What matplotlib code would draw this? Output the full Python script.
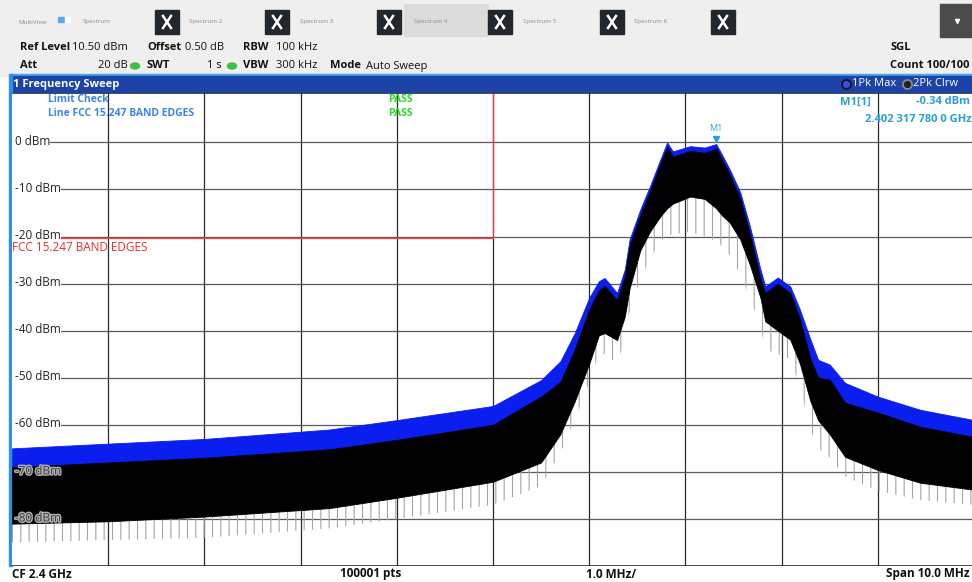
import matplotlib
matplotlib.use("Agg")
import matplotlib.pyplot as plt
from matplotlib.patches import Rectangle, Ellipse
import matplotlib.patheffects as pe

plt.rcParams['font.family'] = ['Open Sans', 'DejaVu Sans']
plt.rcParams['hatch.linewidth'] = 0.8

# trace envelopes, frequency in MHz
freq_mhz = [2395.0, 2396.0, 2397.0, 2398.3, 2399.0, 2400.0, 2400.5, 2400.7, 2400.85,
            2401.0, 2401.1, 2401.16, 2401.29, 2401.37, 2401.42, 2401.53, 2401.63,
            2401.74, 2401.81, 2401.87, 2402.05, 2402.2, 2402.32, 2402.38, 2402.46,
            2402.57, 2402.67, 2402.78, 2402.83, 2402.96, 2403.09, 2403.19, 2403.3,
            2403.38, 2403.5, 2403.66, 2404.0, 2404.44, 2405.0]
maxhold_top = [-65, -64, -63, -61, -59, -56, -50.5, -46.5, -40.5,
               -33, -29.5, -28.8, -32, -27, -20.6, -14.3, -9.4,
               -3.6, 0, -1.9, -0.8, -1.1, -0.34, -2.6, -5.7,
               -10.6, -17.8, -27, -30.6, -28.7, -30.6, -35.5, -41.9,
               -46.2, -47.2, -51.1, -54, -56.8, -59]
clrw_top = [-69, -68, -67, -65.2, -63.2, -60, -54, -50.9, -44,
            -35.5, -31.5, -30.5, -33.5, -28.5, -22, -15.5, -10.5,
            -4.5, -1, -3, -1.8, -2.2, -1.3, -3.6, -6.8,
            -12, -19.5, -29, -32, -30, -32, -37.5, -46,
            -50, -50.4, -55.3, -57.4, -60.4, -62.6]
clrw_bottom = [-81, -80.5, -79.5, -77.7, -75.5, -72.1, -68, -62, -55,
               -47, -41, -40.5, -42, -37, -31, -23, -19,
               -15.7, -14, -13, -11.5, -12, -14, -15.5, -17,
               -20.6, -26, -33, -38, -40, -41.9, -47, -55,
               -59, -62, -66.8, -69.6, -72.3, -73.8]
clrw_spikes = [-85, -84.5, -84, -82, -80, -77, -73, -66, -59,
               -51, -45, -45, -47, -42, -36, -29, -25,
               -21, -20, -19.5, -19, -20, -21, -22, -24,
               -28, -33, -39, -44, -45, -46, -52, -61,
               -65, -67, -71, -74, -76, -77]

ref_level = 10.5
cf_mhz = 2400.0
span_mhz = 10.0
limit_level = -20.34
marker_f = 2402.3177800
marker_lvl = -0.34
grid_levels = [0, -10, -20, -30, -40, -50, -60, -70, -80]

W, H = 972, 582
fig = plt.figure(figsize=(W / 100, H / 100), dpi=100)

# background / chrome in pixel coordinates
bg = fig.add_axes([0, 0, 1, 1], zorder=0)
bg.set_xlim(0, W)
bg.set_ylim(H, 0)
bg.axis('off')
bg.add_patch(Rectangle((0, 0), W, 76, color='#efefef'))
bg.add_patch(Rectangle((0, 566), W, 16, color='#ffffff'))
bg.add_patch(Rectangle((404, 4), 84, 32, color='#dcdcdc'))
for bx in [155, 265, 377, 488, 600, 711]:
    bg.add_patch(Rectangle((bx, 10), 24, 24, color='#22262d'))
    bg.plot([bx + 8, bx + 16], [16, 28], color='white', lw=1.8)
    bg.plot([bx + 8, bx + 16], [28, 16], color='white', lw=1.8)
bg.add_patch(Rectangle((58, 17), 6, 5, color='#5aa8ee'))
bg.add_patch(Rectangle((65, 17), 5, 5, color='#ffffff'))
bg.add_patch(Rectangle((940, 4), 32, 33, color='#4b4b4b'))
bg.plot([957], [21], marker='v', ms=3, color='white')
tabs = [(18, 'MultiView'), (83, 'Spectrum'), (189, 'Spectrum 2'), (300, 'Spectrum 3'),
        (414, 'Spectrum 4'), (523, 'Spectrum 5'), (634, 'Spectrum 6')]
for tx, tl in tabs:
    bg.text(tx, 22, tl, fontsize=4.5, color='#8a8a8a', va='center')

hdr = dict(fontsize=8, va='center', color='#111111')
bg.text(20, 47, 'Ref Level', fontweight='bold', **hdr)
bg.text(72, 47, '10.50 dBm', **hdr)
bg.text(147, 47, 'Offset', fontweight='bold', **hdr)
bg.text(185, 47, '0.50 dB', **hdr)
bg.text(243, 47, 'RBW', fontweight='bold', **hdr)
bg.text(276, 47, '100 kHz', **hdr)
bg.text(20, 66, 'Att', fontweight='bold', **hdr)
bg.text(128, 66, '20 dB', ha='right', **hdr)
bg.text(146, 66, 'SWT', fontweight='bold', **hdr)
bg.text(222, 66, '1 s', ha='right', **hdr)
bg.text(243, 66, 'VBW', fontweight='bold', **hdr)
bg.text(276, 66, '300 kHz', **hdr)
bg.text(330, 66, 'Mode', fontweight='bold', **hdr)
bg.text(366, 66, 'Auto Sweep', **hdr)
bg.text(890, 47, 'SGL', fontweight='bold', **hdr)
bg.text(890, 66, 'Count 100/100', fontweight='bold', **hdr)
for gx in [135, 232]:
    bg.add_patch(Ellipse((gx, 66), 9, 6, color='#3fbf4a'))

bg.add_patch(Rectangle((10, 74), W - 10, 2, color='#45a6ec'))
bg.add_patch(Rectangle((10, 76), W - 10, 16, color='#1d43a6'))
bg.add_patch(Rectangle((9, 74), 3, 492, color='#2f8ee6'))
bg.text(13, 84, '1 Frequency Sweep', fontsize=8, fontweight='bold', color='white', va='center')
bg.plot([846], [84], 'o', ms=6.5, mfc='#3050ee', mec='#101010', mew=1.2)
bg.text(852, 84, '1Pk Max', fontsize=8, color='white', va='center')
bg.plot([907], [84], 'o', ms=6.5, mfc='#202020', mec='#909090', mew=1.2)
bg.text(913, 84, '2Pk Clrw', fontsize=8, color='white', va='center')

bot = dict(fontsize=8.5, fontweight='bold', va='center', color='#111111')
bg.text(12, 574, 'CF 2.4 GHz', **bot)
bg.text(340, 574, '100001 pts', **bot)
bg.text(586, 574, '1.0 MHz/', **bot)
bg.text(970, 574, 'Span 10.0 MHz', ha='right', **bot)

# spectrum display
x0, x1, y0, y1 = 12, 974, 566, 93
ax = fig.add_axes([x0 / W, (H - y0) / H, (x1 - x0) / W, (y0 - y1) / H], zorder=1)
ax.set_xlim(cf_mhz - span_mhz / 2, cf_mhz + span_mhz / 2)
ax.set_ylim(-90, ref_level)
ax.set_facecolor('white')
for s in ax.spines.values():
    s.set_visible(False)
ax.set_xticks([])
ax.set_yticks([])

for i in range(1, 10):
    ax.axvline(cf_mhz - span_mhz / 2 + i, color='#2a2a2a', lw=0.9, zorder=1)
for lv in grid_levels:
    ax.axhline(lv, color='#5a5a5a', lw=0.9, zorder=1)
ax.axhline(-90, color='#2a2a2a', lw=1.2, zorder=6)
ax.axhline(ref_level, color='#2a2a2a', lw=1.2, zorder=6)

ax.fill_between(freq_mhz, clrw_spikes, clrw_bottom, facecolor='none', edgecolor='#a5a5a5',
                hatch='||', lw=0, zorder=2)
ax.fill_between(freq_mhz, clrw_top, maxhold_top, color='#0a1ef0', lw=0.6, zorder=3)
ax.fill_between(freq_mhz, clrw_bottom, clrw_top, color='black', lw=0.6, zorder=4)

# limit line
ax.plot([cf_mhz - span_mhz / 2, cf_mhz, cf_mhz], [limit_level, limit_level, ref_level],
        color='#f04848', lw=1, zorder=5)
ax.text(cf_mhz - span_mhz / 2 + 0.005, limit_level - 2.0, 'FCC 15.247 BAND EDGES',
        fontsize=8.5, color='#f02a2a', va='center', zorder=8)

for lv in grid_levels:
    if lv >= -60:
        ax.text(2395.03, lv + 0.2, f'{lv} dBm', fontsize=8.5, color='#222222', va='center',
                zorder=7, bbox=dict(fc='white', ec='none', pad=0.2))
    else:
        ax.text(2395.03, lv + 0.2, f'{lv} dBm', fontsize=8.5, color='#3a3a3a', va='center',
                zorder=7, path_effects=[pe.withStroke(linewidth=2, foreground='#b0b0b0')])
# blank the grid stubs left of the level labels
ax.fill_betweenx([-65, ref_level - 1], 2395.0, 2395.03, color='white', lw=0, zorder=6)

# marker
ax.plot([marker_f], [marker_lvl + 1.1], marker='v', ms=5, color='#2a9fd8', zorder=8)
ax.text(marker_f, marker_lvl + 3.3, 'M1', fontsize=6.5, color='#2a9fd8', ha='center',
        va='center', zorder=8)

# readouts
top = fig.add_axes([0, 0, 1, 1], zorder=3)
top.set_xlim(0, W)
top.set_ylim(H, 0)
top.axis('off')
top.patch.set_alpha(0)
blue_txt = '#3a86e8'
top.text(48, 100, 'Limit Check', fontsize=7.5, fontweight='bold', color=blue_txt, va='center')
top.text(48, 114, 'Line FCC 15.247 BAND EDGES', fontsize=7.5, fontweight='bold', color=blue_txt,
         va='center')
top.text(388, 100, 'PASS', fontsize=7.5, fontweight='bold', color='#2fd82f', va='center')
top.text(388, 114, 'PASS', fontsize=7.5, fontweight='bold', color='#2fd82f', va='center')

mk_col = '#2a9fd8'
top.text(840, 102, 'M1[1]', fontsize=8, fontweight='bold', color=mk_col, va='center')
top.text(970, 102, f'{marker_lvl:.2f} dBm', fontsize=8, fontweight='bold', color=mk_col,
         ha='right', va='center')
top.text(972, 120, '2.402 317 780 0 GHz', fontsize=8, fontweight='bold', color=mk_col,
         ha='right', va='center')

fig.savefig('out.png', dpi=100)
